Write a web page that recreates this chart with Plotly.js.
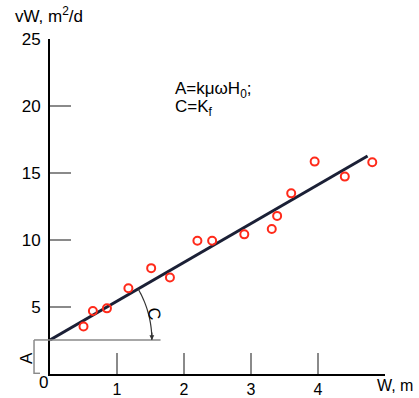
<!DOCTYPE html>
<html>
<head>
<meta charset="utf-8">
<script src="https://cdn.plot.ly/plotly-3.0.1.min.js"></script>
<style>html,body{margin:0;padding:0;background:#fff;}#chart{width:419px;height:398px;}</style>
</head>
<body>
<div id="chart"></div>
<script>
// Data
var pointsW  = [0.50, 0.64, 0.85, 1.17, 1.51, 1.79, 2.20, 2.42, 2.90, 3.31, 3.39, 3.60, 3.95, 4.40, 4.81];
var pointsVW = [3.55, 4.70, 4.90, 6.40, 7.90, 7.20, 9.95, 9.95, 10.42, 10.82, 11.80, 13.48, 15.85, 14.73, 15.80];
var fitW  = [0, 4.74];
var fitVW = [2.54, 16.27];
var xTickVals = [1, 2, 3, 4, 5];
var xTickText = ['1', '2', '3', '4', ''];
var xAxisLabel = 'W, m';
var yTickVals = [5, 10, 15, 20, 25];
var yTickText = ['5', '10', '15', '20', '25'];

var W = 419, H = 398;
var mL = 50, mR = 33.5, mT = 39, mB = 23.5;
var plotW = W - mL - mR, plotH = H - mT - mB;
var xMax = 5, yMax = 25;
var pxX = plotW / xMax, pxY = plotH / yMax;

var A = fitVW[0];
var slope = (fitVW[1] - fitVW[0]) / (fitW[1] - fitW[0]);
var ang = Math.atan(slope * pxY / pxX);
var r = 102;
var path = '';
for (var i = 0; i <= 40; i++) {
  var t = ang * (1 - i / 40);
  var dx = r * Math.cos(t) / pxX, dy = A + r * Math.sin(t) / pxY;
  path += (i === 0 ? 'M' : 'L') + dx.toFixed(4) + ',' + dy.toFixed(4);
}

var font = {family: 'Liberation Sans, Arial, sans-serif', color: '#000'};
var grey = '#8a8a8a';
var bx = -16 / plotW, bx2 = -10 / plotW;

var traces = [
  {x: fitW, y: fitVW, mode: 'lines', line: {color: '#1b2036', width: 3}, hoverinfo: 'skip'},
  {x: pointsW, y: pointsVW, mode: 'markers',
   marker: {symbol: 'circle-open', size: 8, color: '#ff2a1a', line: {color: '#ff2a1a', width: 2}}}
];

var layout = {
  width: W, height: H,
  margin: {l: mL, r: mR, t: mT, b: mB, pad: 0},
  paper_bgcolor: '#fff', plot_bgcolor: '#fff',
  showlegend: false,
  font: Object.assign({size: 16}, font),
  xaxis: {range: [0, xMax], showgrid: false, zeroline: false,
    showline: true, linecolor: '#000', linewidth: 2,
    ticks: 'inside', ticklen: 21, tickwidth: 1.5, tickcolor: grey,
    tickvals: xTickVals, ticktext: xTickText,
    tickfont: Object.assign({size: 16}, font), fixedrange: true},
  yaxis: {range: [0, yMax], showgrid: false, zeroline: false,
    showline: true, linecolor: '#000', linewidth: 2,
    ticks: 'inside', ticklen: 21, tickwidth: 1.5, tickcolor: grey,
    tickvals: yTickVals, ticktext: yTickText, ticklabelstandoff: 4,
    tickfont: Object.assign({size: 17}, font), fixedrange: true},
  shapes: [
    {type: 'line', xref: 'x', yref: 'y', x0: 0, x1: 1.65, y0: A, y1: A, line: {color: grey, width: 1.5}},
    {type: 'path', xref: 'x', yref: 'y', path: path, line: {color: '#333', width: 1.2}},
    // A bracket
    {type: 'line', xref: 'paper', yref: 'y', x0: bx, x1: bx, y0: 0, y1: A, line: {color: grey, width: 1.5}},
    {type: 'line', xref: 'paper', yref: 'y', x0: bx, x1: 0, y0: A, y1: A, line: {color: grey, width: 1.5}},
    {type: 'line', xref: 'paper', yref: 'y', x0: bx, x1: bx2, y0: 0.05, y1: 0.05, line: {color: grey, width: 1.5}}
  ],
  annotations: [
    {xref: 'paper', yref: 'paper', x: -37 / plotW, y: 1 + 24 / plotH, xanchor: 'left', yanchor: 'middle',
     text: 'vW, m<sup>2</sup>/d', showarrow: false, font: Object.assign({size: 17}, font)},
    {xref: 'paper', yref: 'paper', x: 123 / plotW, y: 1 - 51 / plotH, xanchor: 'left', yanchor: 'middle',
     text: 'A=kμωH<sub>0</sub>;', showarrow: false, font: Object.assign({size: 17}, font)},
    {xref: 'paper', yref: 'paper', x: 123 / plotW, y: 1 - 69 / plotH, xanchor: 'left', yanchor: 'middle',
     text: 'C=K<sub>f</sub>', showarrow: false, font: Object.assign({size: 17}, font)},
    {xref: 'paper', yref: 'paper', x: 325 / plotW, y: -12 / plotH, xanchor: 'left', yanchor: 'middle',
     text: xAxisLabel, showarrow: false, font: Object.assign({size: 16}, font)},
    {xref: 'paper', yref: 'paper', x: -7 / plotW, y: -9 / plotH, xanchor: 'center', yanchor: 'middle',
     text: '0', showarrow: false, font: Object.assign({size: 17}, font)},
    {xref: 'paper', yref: 'paper', x: -24 / plotW, y: 16 / plotH, xanchor: 'center', yanchor: 'middle',
     text: 'A', textangle: -90, showarrow: false, font: Object.assign({size: 17}, font)},
    {xref: 'paper', yref: 'paper', x: 104 / plotW, y: (374.5 - 314) / plotH, xanchor: 'center', yanchor: 'middle',
     text: 'C', textangle: 80, showarrow: false, font: Object.assign({size: 17}, font)},
    {xref: 'x', yref: 'y', x: r / pxX, y: A, ax: 0, ay: -9, axref: 'pixel', ayref: 'pixel',
     text: '', showarrow: true, arrowhead: 2, arrowsize: 0.8, arrowwidth: 1.2, arrowcolor: '#333'}
  ]
};

Plotly.newPlot('chart', traces, layout, {staticPlot: true, displayModeBar: false});
</script>
</body>
</html>
